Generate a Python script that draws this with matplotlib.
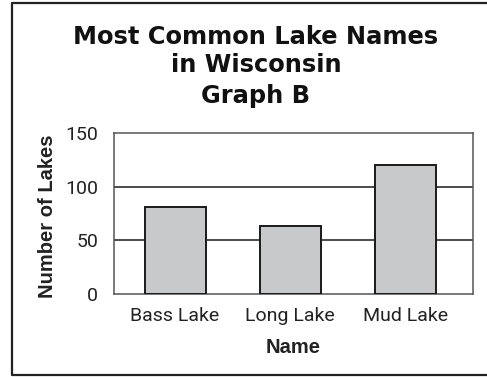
import matplotlib
matplotlib.use("Agg")
import matplotlib.pyplot as plt
from matplotlib.lines import Line2D

names = ["Bass Lake", "Long Lake", "Mud Lake"]
counts = [81, 63, 120]
yticks = [0, 50, 100, 150]

tick_font = "Roboto"
label_font = "Liberation Sans"
title_font = "DejaVu Sans"

W, H = 487, 377
fig = plt.figure(figsize=(W / 100, H / 100), dpi=100)
ax = fig.add_axes([114 / W, 1 - 294 / H, (473 - 114) / W, (294 - 133) / H])

x = range(len(names))
ax.bar(x, counts, width=0.53, color="#c8c9cb", edgecolor="#1a1a1a", linewidth=1.4, zorder=3)
ax.set_xlim(-0.53, 2.585)
ax.set_ylim(0, 150)
ax.set_yticks(yticks)
ax.set_yticklabels([str(v) for v in yticks], fontfamily=tick_font, fontsize=14, color="#222222")
ax.set_xticks(list(x))
ax.set_xticklabels(names, fontfamily=tick_font, fontsize=14, color="#222222")
ax.tick_params(length=0, pad=11.5, axis="y")
ax.tick_params(length=0, pad=9.5, axis="x")
for v in [50, 100]:
    ax.axhline(v, color="#1a1a1a", linewidth=1.1, zorder=1)
for s in ax.spines.values():
    s.set_color("#555555")
    s.set_linewidth(1.1)

ax.set_ylabel("Number of Lakes", fontfamily=label_font, fontweight="bold", fontsize=14.5,
              color="#222222")
ax.yaxis.set_label_coords(-0.16, 0.484)
ax.set_xlabel("Name", fontfamily=label_font, fontweight="bold", fontsize=14.5,
              labelpad=9, color="#222222")

for ypix, line in [(34, "Most Common Lake Names"), (62, "in Wisconsin"), (93, "Graph B")]:
    fig.text(256 / W, 1 - ypix / H, line, ha="center", va="center_baseline",
             fontfamily=title_font, fontweight="bold", fontsize=17.4, color="#111111")

# outer frame (open on the right)
fx = [W + 5, 11.5, 11.5, W + 5]
fy = [3, 3, 374.5, 374.5]
fig.add_artist(Line2D([a / W for a in fx], [1 - b / H for b in fy],
                      color="#222222", linewidth=1.6))

fig.savefig("out.png", dpi=100)
